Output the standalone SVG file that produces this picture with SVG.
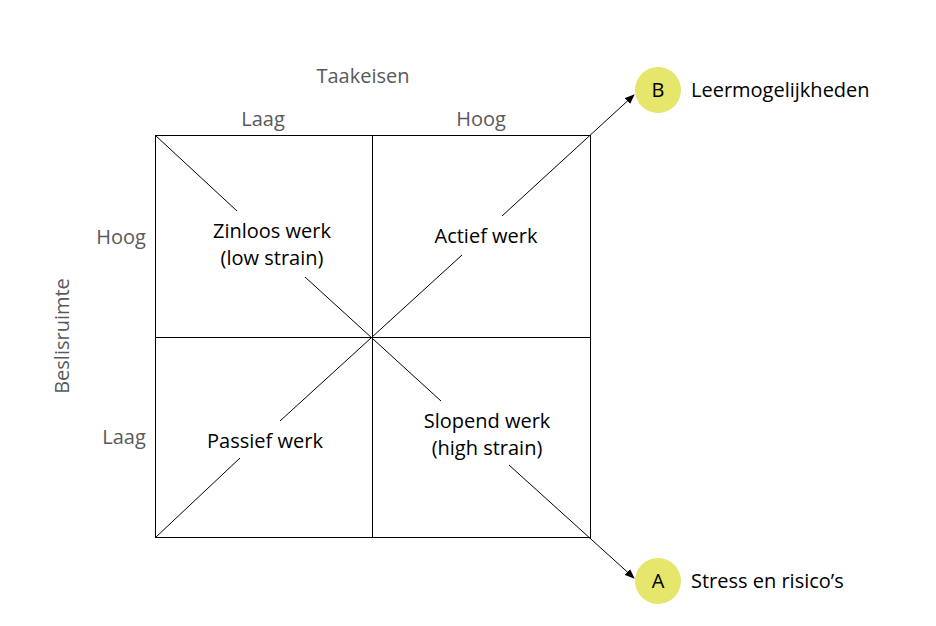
<svg xmlns="http://www.w3.org/2000/svg" width="936" height="626" viewBox="0 0 936 626">
<defs>
<style>
text{font-family:"Open Sans","Noto Sans",sans-serif;font-size:20px}
.g{fill:#595959}
.k{fill:#000}
.ln{stroke:#000;stroke-width:1;fill:none}
.c{fill:#E5E66B}
</style>
<marker id="ah" markerWidth="10" markerHeight="8" refX="9" refY="4" orient="auto" markerUnits="userSpaceOnUse">
<path d="M0,0 L10,4 L0,8 z" fill="#000"/>
</marker>
</defs>
<rect width="936" height="626" fill="#fff"/>
<g id="grid">
<rect class="ln" x="155.5" y="135.5" width="435" height="402"/>
<line class="ln" x1="372.5" y1="135.5" x2="372.5" y2="537.5"/>
<line class="ln" x1="155.5" y1="337.5" x2="590.5" y2="337.5"/>
</g>
<g id="connectors">
<line class="ln" x1="155.5" y1="135.5" x2="237" y2="211"/>
<line class="ln" x1="305" y1="277" x2="441" y2="401"/>
<line class="ln" x1="509" y1="465" x2="634" y2="578" marker-end="url(#ah)"/>
<line class="ln" x1="155.5" y1="537.5" x2="240" y2="458"/>
<line class="ln" x1="280" y1="421" x2="462" y2="255"/>
<line class="ln" x1="502" y1="216" x2="634" y2="95" marker-end="url(#ah)"/>
</g>
<g id="axis-labels">
<text class="g" x="363" y="83" text-anchor="middle">Taakeisen</text>
<text class="g" x="263" y="126" text-anchor="middle">Laag</text>
<text class="g" x="481" y="126" text-anchor="middle">Hoog</text>
<text class="g" x="121" y="244" text-anchor="middle">Hoog</text>
<text class="g" x="124" y="444" text-anchor="middle">Laag</text>
<text class="g" transform="translate(69,336) rotate(-90)" text-anchor="middle">Beslisruimte</text>
</g>
<g id="zinloos">
<text class="k" x="272" y="238" text-anchor="middle">Zinloos werk</text>
<text class="k" x="272" y="265" text-anchor="middle">(low strain)</text>
</g>
<g id="actief">
<text class="k" x="486" y="243" text-anchor="middle">Actief werk</text>
</g>
<g id="passief">
<text class="k" x="265" y="448" text-anchor="middle">Passief werk</text>
</g>
<g id="slopend">
<text class="k" x="487" y="428" text-anchor="middle">Slopend werk</text>
<text class="k" x="487" y="455" text-anchor="middle">(high strain)</text>
</g>
<g id="nodeB">
<circle class="c" cx="658" cy="90" r="23"/>
<text class="k" x="658" y="97" text-anchor="middle">B</text>
<text class="k" x="691" y="97">Leermogelijkheden</text>
</g>
<g id="nodeA">
<circle class="c" cx="658" cy="581" r="23"/>
<text class="k" x="658" y="588" text-anchor="middle">A</text>
<text class="k" x="691" y="588">Stress en risico’s</text>
</g>
</svg>
